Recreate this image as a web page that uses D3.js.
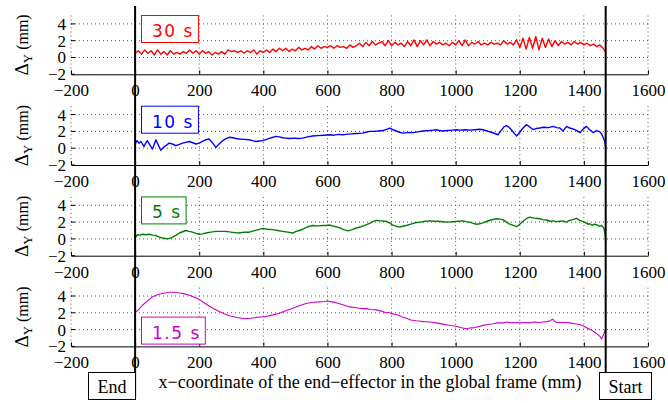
<!DOCTYPE html>
<html>
<head>
<meta charset="utf-8">
<script src="https://cdn.jsdelivr.net/npm/d3@7"></script>
<style>
  body { margin: 0; background: #fff; }
  svg { display: block; }
</style>
</head>
<body>
<div class="chart"></div>
<script>
var svgWidth = 668;
var svgHeight = 403;

// tick values
var xTicks = [-200, 0, 200, 400, 600, 800, 1000, 1200, 1400, 1600];
var yTicks = [-2, 0, 2, 4];
var yGrid = [0, 2, 4];

// panel labels / colours
var panelLabels = ["30 s", "10 s", "5 s", "1.5 s"];
var panelColors = ["#ff0000", "#0000ff", "#008000", "#cc00cc"];

// marker lines (x of end and start of the path)
var endX = 0;
var startX = 1468;

// 30 s : sampled every 10 mm from 0 to 1460, then last point at 1468
var y30 = [
  0.5, 0.8, 0.4, 0.9, 0.5, 0.8, 0.3, 0.9, 0.4, 0.7,
  0.3, 0.8, 0.4, 0.6, 0.4, 0.7, 0.5, 0.9, 0.5, 0.8,
  0.4, 0.8, 0.5, 0.7, 0.3, 0.6, 0.4, 0.7, 0.4, 0.9,
  0.7, 0.8, 0.6, 0.8, 0.5, 0.8, 0.6, 0.9, 0.4, 0.8,
  0.6, 0.9, 0.6, 1.0, 0.7, 1.1, 0.8, 1.1, 0.7, 1.0,
  0.8, 1.2, 0.9, 1.1, 0.9, 1.3, 1.0, 1.4, 1.1, 1.3,
  1.2, 1.4, 1.1, 1.4, 1.2, 1.3, 1.1, 1.5, 1.2, 1.4,
  1.7, 1.3, 1.8, 1.4, 1.9, 1.5, 1.7, 1.9, 1.4, 2.0,
  1.4, 1.8, 1.5, 1.7, 1.3, 1.9, 1.4, 2.1, 1.3, 2.0,
  1.5, 2.1, 1.4, 1.9, 1.6, 1.8, 1.5, 1.7, 1.4, 1.8,
  1.5, 2.0, 1.4, 2.1, 1.4, 1.8, 1.6, 1.9, 1.5, 1.7,
  1.5, 1.8, 1.6, 1.7, 1.5, 2.0, 1.6, 1.8, 1.5, 2.1,
  1.2, 2.3, 1.0, 2.4, 1.1, 2.5, 0.9, 2.3, 1.2, 2.2,
  1.3, 2.0, 1.4, 1.9, 1.6, 1.8, 1.5, 1.9, 1.6, 1.8,
  1.5, 1.7, 1.4, 1.6, 1.3, 1.5, 1.1, 0.6
];
var x30 = d3.range(0, 1461, 10).concat([1468]);

// 10 s
var x10 = [0, 6, 12, 18, 28, 33, 38, 46, 54, 60, 65, 72, 80, 88, 96, 106, 116, 127, 138, 148,
  158, 169, 180, 190, 200, 210, 220, 231, 242, 252, 262, 273, 284, 294, 305, 315, 325, 340, 356, 366,
  377, 388, 398, 410, 425, 440, 450, 460, 470, 481, 495, 510, 523, 538, 554, 570, 590, 606, 620, 635,
  648, 658, 675, 690, 710, 720, 731, 745, 760, 773, 784, 794, 804, 815, 825, 835, 850, 867, 882, 898,
  918, 930, 940, 950, 960, 975, 990, 1002, 1015, 1030, 1044, 1060, 1075, 1085, 1098, 1111, 1122, 1132, 1140, 1150,
  1158, 1166, 1174, 1182, 1190, 1200, 1210, 1221, 1232, 1242, 1252, 1262, 1275, 1290, 1304, 1315, 1325, 1335, 1346, 1356,
  1366, 1378, 1388, 1398, 1408, 1418, 1429, 1440, 1450, 1455, 1460, 1465, 1468];
var y10 = [0.5, 0.9, 0.6, 0.8, 0.2, 0.6, 0.9, 0.4, -0.1, 0.5, 1.0, 0.4, -0.25, 0.1, 0.3, 0.6, 0.5, 0.3, 0.45, 0.6,
  0.7, 0.8, 0.65, 0.5, 0.6, 0.8, 1.0, 1.1, 0.6, 0.1, 0.5, 0.9, 1.15, 1.3, 1.25, 1.15, 1.1, 1.05, 1.0, 0.9,
  0.8, 0.85, 0.9, 1.05, 1.25, 1.4, 1.35, 1.25, 1.2, 1.15, 1.2, 1.15, 1.2, 1.35, 1.45, 1.5, 1.55, 1.6, 1.55, 1.65,
  1.6, 1.65, 1.7, 1.75, 1.8, 1.9, 2.0, 2.0, 2.05, 2.1, 2.25, 2.4, 2.2, 2.05, 1.9, 1.8, 1.85, 1.85, 1.95, 2.05,
  2.1, 2.15, 2.2, 2.1, 2.05, 2.1, 2.15, 2.2, 2.15, 2.2, 2.15, 2.2, 2.25, 2.2, 2.05, 1.9, 1.75, 1.6, 2.0, 2.5,
  2.7, 2.5, 2.2, 1.8, 1.45, 1.9, 2.4, 2.8, 2.5, 2.2, 2.35, 2.4, 2.5, 2.45, 2.6, 2.45, 2.4, 2.05, 2.6, 2.4,
  2.3, 2.1, 1.85, 2.3, 2.6, 2.2, 1.85, 2.1, 1.95, 1.7, 1.3, 0.8, 0.1];

// 5 s
var x5 = [0, 7, 15, 23, 33, 44, 55, 65, 75, 85, 93, 101, 110, 117, 128, 138, 148, 158, 168, 179,
  190, 200, 210, 221, 236, 252, 267, 283, 300, 312, 325, 340, 356, 370, 385, 398, 412, 429, 445, 460,
  476, 492, 502, 512, 525, 540, 554, 570, 585, 596, 606, 620, 637, 650, 664, 677, 690, 705, 718, 731,
  742, 752, 767, 783, 794, 804, 815, 825, 835, 846, 860, 877, 890, 905, 919, 932, 946, 960, 975, 992,
  1008, 1023, 1033, 1044, 1055, 1065, 1075, 1085, 1098, 1110, 1127, 1138, 1148, 1158, 1169, 1180, 1190, 1200, 1210, 1220,
  1231, 1240, 1250, 1263, 1272, 1283, 1294, 1305, 1315, 1325, 1335, 1345, 1356, 1366, 1377, 1387, 1398, 1406, 1413, 1419,
  1426, 1433, 1440, 1447, 1455, 1460, 1463, 1466, 1468];
var y5 = [0.1, 0.5, 0.45, 0.55, 0.5, 0.55, 0.45, 0.4, 0.25, 0.1, 0.05, 0.0, 0.1, 0.2, 0.45, 0.7, 0.85, 1.0, 0.9, 0.8,
  0.65, 0.55, 0.6, 0.7, 0.8, 0.9, 0.9, 0.9, 0.8, 0.75, 0.7, 0.8, 0.8, 0.95, 1.1, 1.25, 1.15, 1.1, 1.0, 0.9,
  0.8, 0.7, 0.9, 1.0, 1.2, 1.45, 1.6, 1.55, 1.6, 1.6, 1.65, 1.5, 1.35, 1.1, 0.95, 1.1, 1.3, 1.45, 1.65, 1.85,
  2.05, 2.2, 2.15, 2.1, 1.9, 1.65, 1.5, 1.4, 1.5, 1.6, 1.75, 1.95, 2.0, 2.1, 2.15, 2.1, 2.1, 2.05, 2.0, 2.05,
  2.1, 2.15, 2.05, 2.0, 1.85, 1.75, 1.8, 1.9, 2.1, 2.25, 2.4, 2.35, 2.3, 2.0, 1.75, 1.6, 1.45, 1.75, 2.1, 2.4,
  2.6, 2.5, 2.45, 2.4, 2.3, 2.25, 2.1, 2.15, 2.05, 2.1, 2.15, 2.0, 2.2, 2.3, 2.45, 2.2, 2.05, 1.9, 1.75, 1.8,
  1.6, 1.75, 1.7, 1.5, 1.6, 1.4, 1.2, 0.6, -0.3];

// 1.5 s
var x15 = [0, 12, 23, 38, 54, 70, 85, 106, 122, 138, 154, 169, 185, 200, 215, 231, 247, 263, 278, 294,
  318, 341, 360, 377, 392, 408, 430, 450, 470, 492, 512, 533, 555, 575, 590, 601, 614, 627, 648, 669,
  690, 700, 710, 722, 735, 752, 768, 783, 792, 800, 815, 830, 846, 860, 877, 890, 900, 919, 930, 940,
  960, 975, 990, 1002, 1015, 1033, 1045, 1054, 1070, 1085, 1100, 1117, 1130, 1148, 1160, 1175, 1190, 1205, 1220, 1231,
  1245, 1260, 1273, 1285, 1295, 1302, 1308, 1315, 1330, 1345, 1356, 1370, 1385, 1398, 1410, 1420, 1429, 1440, 1450, 1455,
  1458, 1460, 1464, 1468];
var y15 = [2.05, 2.4, 2.9, 3.4, 3.9, 4.15, 4.3, 4.45, 4.45, 4.35, 4.25, 4.1, 3.85, 3.6, 3.2, 2.8, 2.45, 2.15, 1.9, 1.65,
  1.45, 1.3, 1.35, 1.45, 1.5, 1.55, 1.75, 1.95, 2.25, 2.55, 2.85, 3.1, 3.25, 3.3, 3.35, 3.4, 3.3, 3.2, 2.95, 2.7,
  2.6, 2.55, 2.5, 2.5, 2.4, 2.35, 2.2, 2.0, 2.05, 1.9, 1.8, 1.55, 1.35, 1.15, 1.05, 1.0, 0.95, 0.9, 0.85, 0.8,
  0.65, 0.55, 0.45, 0.4, 0.25, 0.1, 0.2, 0.2, 0.35, 0.5, 0.6, 0.7, 0.8, 0.8, 0.9, 0.8, 0.85, 0.8, 0.85, 0.8,
  0.9, 0.85, 0.9, 0.95, 1.05, 1.25, 1.0, 0.85, 0.85, 0.85, 0.8, 0.7, 0.6, 0.45, 0.2, 0.0, -0.2, -0.5, -0.8, -1.1,
  -0.9, -0.7, -0.3, 0.1];

var seriesX = [x30, x10, x5, x15];
var seriesY = [y30, y10, y5, y15];

var svg = d3.select(".chart")
  .append("svg")
  .attr("width", svgWidth)
  .attr("height", svgHeight);

var serif = "'Liberation Serif', 'Times New Roman', serif";
var sans = "'DejaVu Sans', sans-serif";

var xScale = d3.scaleLinear().domain([-200, 1600]).range([71, 648]);

var panelTop = 15.5;
var panelStep = 90.7;
var panelH = 58.8;
var labelBoxY = [0, 0, 0, 29.5];

var yScale = d3.scaleLinear().domain([-2, 5]).range([panelH, 0]);

var fmt = function (d) { return d < 0 ? "\u2212" + Math.abs(d) : d; };

panelLabels.forEach(function (label, i) {
  var g = svg.append("g")
    .attr("transform", `translate(0, ${panelTop + i * panelStep})`);

  // dotted grid
  g.selectAll(".vgrid")
    .data(xTicks)
    .enter()
    .append("line")
    .attr("x1", d => xScale(d))
    .attr("x2", d => xScale(d))
    .attr("y1", yScale(5))
    .attr("y2", yScale(-2))
    .attr("stroke", "#555")
    .attr("stroke-width", 1)
    .attr("stroke-dasharray", "1,3");

  g.selectAll(".hgrid")
    .data(yGrid)
    .enter()
    .append("line")
    .attr("x1", xScale(-200))
    .attr("x2", xScale(1600))
    .attr("y1", d => yScale(d))
    .attr("y2", d => yScale(d))
    .attr("stroke", "#555")
    .attr("stroke-width", 1)
    .attr("stroke-dasharray", "1,3");

  // bottom axis
  var xAxis = g.append("g")
    .attr("transform", `translate(0, ${panelH})`)
    .call(d3.axisBottom(xScale).tickValues(xTicks).tickSizeInner(-4).tickSizeOuter(0).tickPadding(10).tickFormat(fmt));
  xAxis.select(".domain").attr("stroke", "#000");
  xAxis.selectAll("text")
    .attr("font-family", serif)
    .attr("font-size", 17)
    .attr("fill", "#000");

  // y ticks and labels (no spine)
  g.selectAll(".ytick")
    .data(yTicks)
    .enter()
    .append("line")
    .attr("x1", xScale(-200))
    .attr("x2", xScale(-200) + 4)
    .attr("y1", d => yScale(d))
    .attr("y2", d => yScale(d))
    .attr("stroke", "#000");

  g.selectAll(".ylab")
    .data(yTicks)
    .enter()
    .append("text")
    .attr("x", xScale(-200) - 5)
    .attr("y", d => yScale(d))
    .attr("dy", "0.35em")
    .attr("text-anchor", "end")
    .attr("font-family", serif)
    .attr("font-size", 17)
    .text(fmt);

  // y axis title
  var yt = g.append("text")
    .attr("transform", `translate(27.5, ${yScale(1.5)}) rotate(-90)`)
    .attr("text-anchor", "middle")
    .attr("font-family", serif)
    .attr("font-size", 16);
  yt.append("tspan").attr("font-size", 19).text("\u0394");
  yt.append("tspan").attr("font-size", 13).attr("dy", 4).text("Y");
  yt.append("tspan").attr("dy", -4).text(" (mm)");

  // the series
  var line = d3.line()
    .x(d => xScale(d[0]))
    .y(d => yScale(d[1]));
  var pts = seriesX[i].map((x, k) => [x, seriesY[i][k]]);
  g.append("path")
    .datum(pts)
    .attr("d", line)
    .attr("fill", "none")
    .attr("stroke", panelColors[i])
    .attr("stroke-width", i === 3 ? 1.1 : 1.4)
    .attr("stroke-linejoin", "round");

  // label box
  var lg = g.append("g");
  var lt = lg.append("text")
    .attr("x", 152)
    .attr("y", labelBoxY[i] + 21.5)
    .attr("font-family", sans)
    .attr("font-size", 17)
    .attr("letter-spacing", 1.5)
    .attr("fill", panelColors[i])
    .text(label);
  var bb = lt.node().getBBox();
  lg.insert("rect", ":first-child")
    .attr("x", 141.5)
    .attr("y", labelBoxY[i])
    .attr("width", bb.width + 15)
    .attr("height", 27)
    .attr("fill", "#fff")
    .attr("stroke", panelColors[i])
    .attr("stroke-width", 1);
});

// end / start markers
svg.append("line")
  .attr("x1", xScale(endX)).attr("x2", xScale(endX))
  .attr("y1", 6).attr("y2", 398)
  .attr("stroke", "#000").attr("stroke-width", 2);
svg.append("line")
  .attr("x1", xScale(startX)).attr("x2", xScale(startX))
  .attr("y1", 6).attr("y2", 372)
  .attr("stroke", "#000").attr("stroke-width", 2);

svg.append("rect")
  .attr("x", 88.5).attr("y", 372.5).attr("width", 47).attr("height", 27)
  .attr("fill", "#fff").attr("stroke", "#000");
svg.append("text")
  .attr("x", 112).attr("y", 393)
  .attr("text-anchor", "middle")
  .attr("font-family", serif).attr("font-size", 18)
  .text("End");

svg.append("rect")
  .attr("x", 599.5).attr("y", 372.5).attr("width", 52).attr("height", 27)
  .attr("fill", "#fff").attr("stroke", "#000");
svg.append("text")
  .attr("x", 625.5).attr("y", 393)
  .attr("text-anchor", "middle")
  .attr("font-family", serif).attr("font-size", 18)
  .text("Start");

svg.append("text")
  .attr("x", 370)
  .attr("y", 388)
  .attr("text-anchor", "middle")
  .attr("font-family", serif)
  .attr("font-size", 18)
  .text("x\u2212coordinate of the end\u2212effector in the global frame (mm)");
</script>
</body>
</html>
